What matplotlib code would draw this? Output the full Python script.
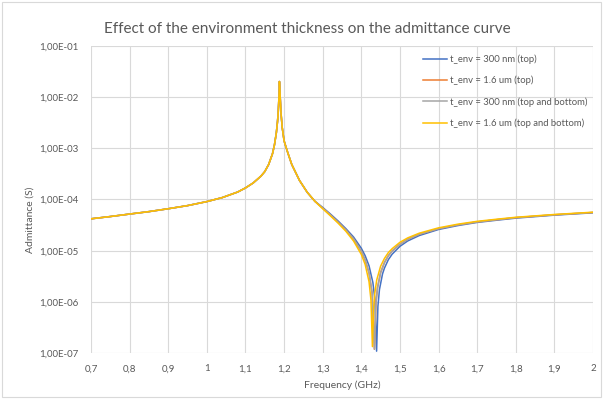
# -*- coding: utf-8 -*-

"""
    Admittance of the resonator vs. frequency for several environment thicknesses
"""
import matplotlib
matplotlib.use('Agg')
import matplotlib.pyplot as plt
from matplotlib.patches import Rectangle
from matplotlib.ticker import FixedLocator, FuncFormatter, NullLocator

plt.rcParams['font.family'] = ['Lato', 'DejaVu Sans']

# common part of the curve (all four cases overlap up to ~1.28 GHz)
freq_shared = [0.70, 0.75, 0.80, 0.85, 0.90, 0.95, 1.00, 1.04, 1.08, 1.10, 1.12, 1.14,
               1.15, 1.16, 1.17, 1.175, 1.18, 1.183, 1.185, 1.187, 1.188, 1.189, 1.190,
               1.192, 1.195, 1.200, 1.205, 1.210, 1.220, 1.240, 1.260, 1.280]
adm_shared = [4.2e-5, 4.65e-5, 5.2e-5, 5.8e-5, 6.6e-5, 7.6e-5, 9.1e-5, 1.09e-4, 1.40e-4,
              1.68e-4, 2.1e-4, 2.85e-4, 3.5e-4, 4.8e-4, 7.8e-4, 1.15e-3, 2.0e-3, 3.3e-3,
              5.2e-3, 1.1e-2, 2.0e-2, 1.5e-2, 1.0e-2, 5.0e-3, 2.6e-3, 1.4e-3, 1.05e-3,
              8.0e-4, 4.8e-4, 2.35e-4, 1.38e-4, 9.2e-5]

# t_env = 300 nm (top)
freq_300_top = [1.30, 1.32, 1.34, 1.36, 1.38, 1.40, 1.41, 1.42, 1.43, 1.435, 1.4396, 1.443,
                1.447, 1.455, 1.46, 1.47, 1.48, 1.50, 1.52, 1.55, 1.60, 1.65, 1.70, 1.75,
                1.80, 1.90, 2.00]
adm_300_top = [7.0e-5, 5.2e-5, 3.8e-5, 2.7e-5, 1.85e-5, 1.12e-5, 8.0e-6, 5.1e-6, 2.4e-6,
               1.15e-6, 1.1e-7, 8.2e-7, 1.75e-6, 3.55e-6, 4.6e-6, 6.7e-6, 8.6e-6, 1.22e-5,
               1.55e-5, 1.98e-5, 2.6e-5, 3.1e-5, 3.57e-5, 3.94e-5, 4.33e-5, 4.95e-5, 5.5e-5]

# t_env = 1.6 um (top)
freq_16_top = [1.30, 1.32, 1.34, 1.36, 1.38, 1.40, 1.41, 1.42, 1.428, 1.434, 1.438, 1.442,
               1.45, 1.46, 1.47, 1.48, 1.50, 1.52, 1.55, 1.60, 1.65, 1.70, 1.75, 1.80,
               1.90, 2.00]
adm_16_top = [6.8e-5, 5.0e-5, 3.6e-5, 2.55e-5, 1.7e-5, 9.8e-6, 6.6e-6, 3.7e-6, 1.5e-6,
              1.2e-7, 9.8e-7, 1.9e-6, 3.75e-6, 5.9e-6, 8.0e-6, 9.9e-6, 1.34e-5, 1.67e-5,
              2.1e-5, 2.7e-5, 3.2e-5, 3.65e-5, 4.03e-5, 4.42e-5, 5.03e-5, 5.58e-5]

# t_env = 300 nm (top and bottom)
freq_300_both = [1.30, 1.32, 1.34, 1.36, 1.38, 1.40, 1.41, 1.42, 1.428, 1.434, 1.438, 1.442,
                 1.45, 1.46, 1.47, 1.48, 1.50, 1.52, 1.55, 1.60, 1.65, 1.70, 1.75, 1.80,
                 1.90, 2.00]
adm_300_both = [6.8e-5, 5.0e-5, 3.6e-5, 2.55e-5, 1.7e-5, 9.8e-6, 6.6e-6, 3.7e-6, 1.5e-6,
                1.2e-7, 9.8e-7, 1.9e-6, 3.75e-6, 5.9e-6, 8.0e-6, 9.9e-6, 1.34e-5, 1.67e-5,
                2.1e-5, 2.7e-5, 3.2e-5, 3.65e-5, 4.03e-5, 4.42e-5, 5.03e-5, 5.58e-5]

# t_env = 1.6 um (top and bottom)
freq_16_both = [1.30, 1.32, 1.34, 1.36, 1.38, 1.40, 1.41, 1.42, 1.425, 1.4288, 1.432, 1.435,
                1.44, 1.45, 1.46, 1.47, 1.48, 1.50, 1.52, 1.55, 1.60, 1.65, 1.70, 1.75,
                1.80, 1.90, 2.00]
adm_16_both = [6.6e-5, 4.8e-5, 3.45e-5, 2.4e-5, 1.55e-5, 8.5e-6, 5.4e-6, 2.5e-6, 1.1e-6,
               1.35e-7, 7.5e-7, 1.5e-6, 2.7e-6, 5.0e-6, 7.1e-6, 9.2e-6, 1.1e-5, 1.46e-5,
               1.78e-5, 2.2e-5, 2.8e-5, 3.3e-5, 3.75e-5, 4.12e-5, 4.5e-5, 5.1e-5, 5.65e-5]

series = [
    ('t_env = 300 nm (top)', freq_300_top, adm_300_top, '#4472C4'),
    ('t_env = 1.6 um (top)', freq_16_top, adm_16_top, '#ED7D31'),
    ('t_env = 300 nm (top and bottom)', freq_300_both, adm_300_both, '#A5A5A5'),
    ('t_env = 1.6 um (top and bottom)', freq_16_both, adm_16_both, '#FFC000'),
]

x_ticks = [0.7, 0.8, 0.9, 1.0, 1.1, 1.2, 1.3, 1.4, 1.5, 1.6, 1.7, 1.8, 1.9, 2.0]
y_ticks = [1e-7, 1e-6, 1e-5, 1e-4, 1e-3, 1e-2, 1e-1]

text_color = '#595959'
grid_color = '#d9d9d9'


def fmt_x(v, pos):
    s = '{:.1f}'.format(v).rstrip('0').rstrip('.')
    return s.replace('.', ',')


def fmt_y(v, pos):
    return '{:.2E}'.format(v).replace('.', ',')


fig = plt.figure(figsize=(6.03, 4.08), dpi=100)
ax = fig.add_axes([0.1509, 0.1341, 0.8325, 0.7539])

for label, f, y, color in series:
    ax.plot(freq_shared + f, adm_shared + y, color=color, lw=1.1, label=label)

ax.set_yscale('log')
ax.set_xlim(0.7, 2.0)
ax.set_ylim(1e-7, 1e-1)

ax.xaxis.set_major_locator(FixedLocator(x_ticks))
ax.yaxis.set_major_locator(FixedLocator(y_ticks))
ax.yaxis.set_minor_locator(NullLocator())
ax.xaxis.set_major_formatter(FuncFormatter(fmt_x))
ax.yaxis.set_major_formatter(FuncFormatter(fmt_y))

ax.grid(True, which='major', color=grid_color, lw=0.8)
ax.set_axisbelow(True)
for sp in ax.spines.values():
    sp.set_visible(False)
ax.tick_params(axis='both', length=0, labelsize=7, labelcolor=text_color)
ax.tick_params(axis='y', pad=9)
ax.tick_params(axis='x', pad=8)

ax.set_xlabel('Frequency (GHz)', fontsize=7.5, color=text_color, labelpad=5)
ax.set_ylabel('Admittance (S)', fontsize=7.5, color=text_color)
ax.yaxis.set_label_coords(-0.113, 0.433)

fig.suptitle('Effect of the environment thickness on the admittance curve',
             x=0.51, y=0.945, fontsize=11, color=text_color)

leg = ax.legend(loc='upper right', bbox_to_anchor=(1.0, 0.99), frameon=False,
                fontsize=6.8, handlelength=2.6, handletextpad=0.3, labelspacing=1.25,
                borderaxespad=0.2)
for t in leg.get_texts():
    t.set_color(text_color)

# chart border
fig.patches.append(Rectangle((0.004, 0.028), 0.992, 0.967, transform=fig.transFigure,
                             fill=False, edgecolor=grid_color, lw=0.8))

fig.savefig('out.png', dpi=100)
